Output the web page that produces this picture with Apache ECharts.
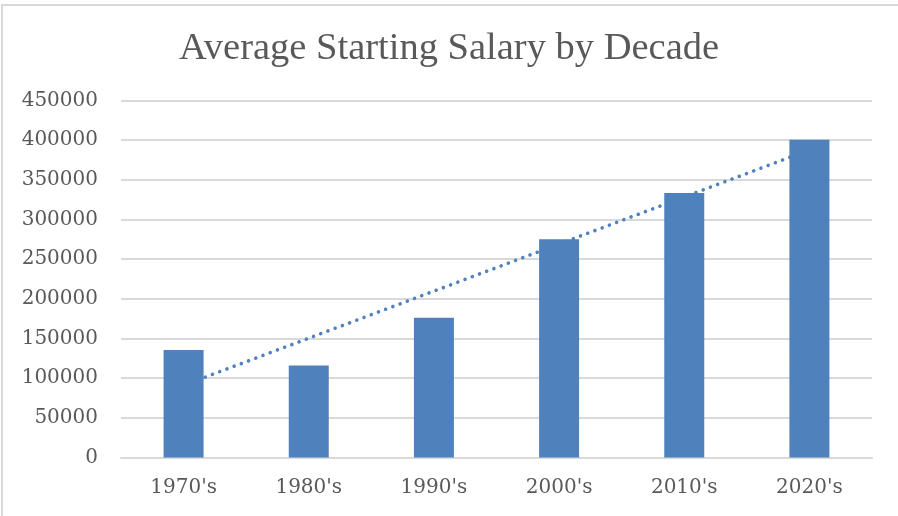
<!DOCTYPE html>
<html>
<head>
<meta charset="utf-8">
<script src="https://cdn.jsdelivr.net/npm/echarts@6/dist/echarts.min.js"></script>
<style>
  html, body { margin: 0; padding: 0; background: #fff; overflow: hidden; }
  #frame { position: absolute; left: 1px; top: 4px; width: 910px; height: 530px;
           border-left: 2px solid #d9d9d9; border-top: 2px solid #d9d9d9; }
  #chart { position: absolute; left: 0; top: 0; width: 898px; height: 516px; }
</style>
</head>
<body>
<div id="frame"></div>
<div id="chart"></div>
<script>
// data
var decades = ["1970's", "1980's", "1990's", "2000's", "2010's", "2020's"];
var salaries = [135500, 116000, 176000, 275000, 333500, 400500];
var yTicks = [0, 50000, 100000, 150000, 200000, 250000, 300000, 350000, 400000, 450000];

// linear trendline (least squares, like the excel one)
function trend(vals){
	var n = vals.length, sx = 0, sy = 0, sxy = 0, sxx = 0;
	for(var i = 0; i < n; i++){
		var x = i + 1;
		sx += x; sy += vals[i]; sxy += x * vals[i]; sxx += x * x;
	}
	var b = (n * sxy - sx * sy) / (n * sxx - sx * sx);
	var a = (sy - b * sx) / n;
	var out = [];
	for(var j = 0; j < n; j++){ out.push(a + b * (j + 1)); }
	return out;
}

var font = "'DejaVu Serif', serif";
var myChart = echarts.init(document.getElementById('chart'), null, {renderer: 'canvas'});
var option = {
	animation: false,
	title: {
		text: 'Average Starting Salary by Decade',
		left: 'center',
		top: 24,
		textStyle: { fontFamily: "'Liberation Serif', serif", fontSize: 38.5, fontWeight: 'normal', color: '#595959' }
	},
	grid: { left: 121, right: 26, top: 100.5, bottom: 58.5, containLabel: false },
	xAxis: {
		type: 'category',
		data: decades,
		axisLine: { lineStyle: { color: '#d9d9d9', width: 2 } },
		axisTick: { show: false },
		axisLabel: { color: '#595959', fontFamily: font, fontSize: 20, margin: 20 }
	},
	yAxis: {
		type: 'value',
		min: yTicks[0],
		max: yTicks[yTicks.length - 1],
		interval: 50000,
		axisLine: { show: false },
		axisTick: { show: false },
		splitLine: { lineStyle: { color: '#d9d9d9', width: 2 } },
		axisLabel: { color: '#595959', fontFamily: font, fontSize: 20, margin: 23,
			formatter: function(v){ return String(v); } }
	},
	series: [
		{
			name: 'Trend',
			type: 'line',
			data: trend(salaries),
			symbol: 'none',
			z: 1,
			lineStyle: { color: '#4f81bd', width: 3.6, type: [0.01, 7.7], cap: 'round' }
		},
		{
			name: 'Salary',
			type: 'bar',
			data: salaries,
			barWidth: 40,
			z: 2,
			itemStyle: { color: '#4f81bd' }
		}
	]
};
myChart.setOption(option);
</script>
</body>
</html>
